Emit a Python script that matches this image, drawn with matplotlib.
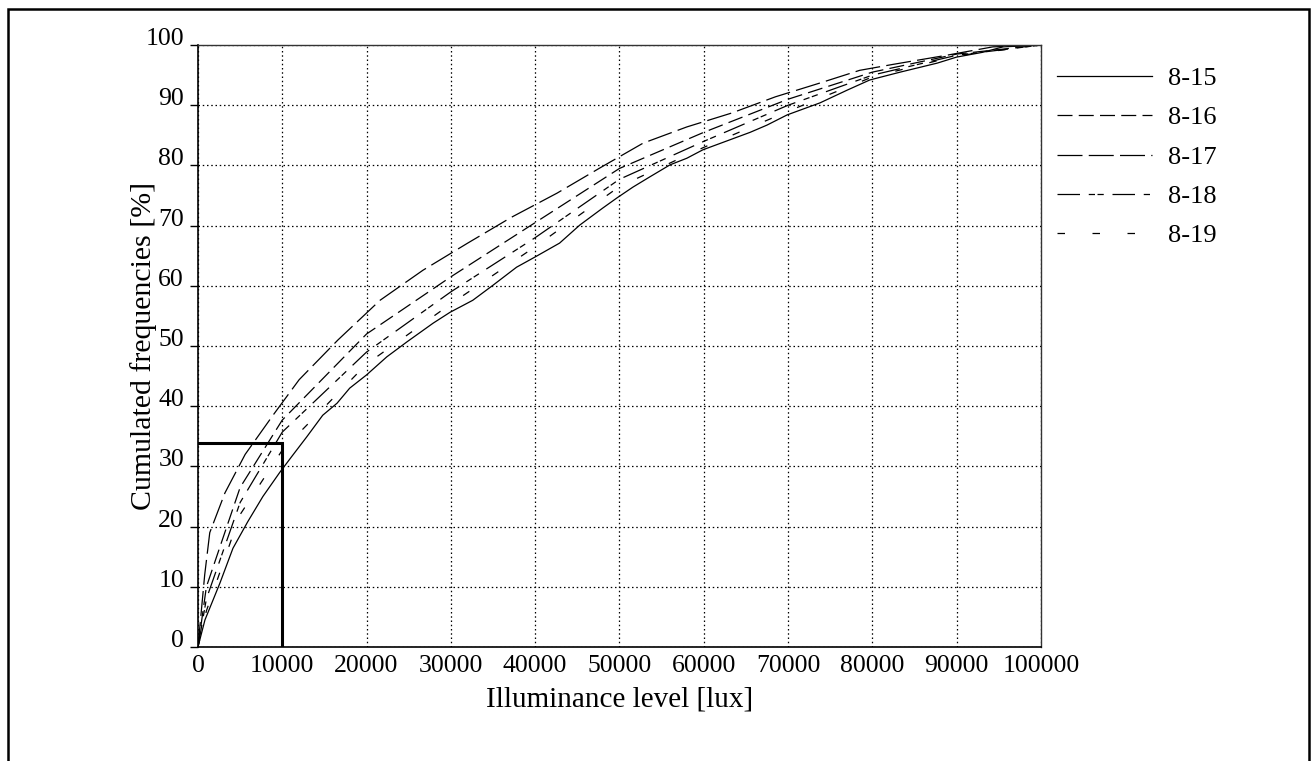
import matplotlib.pyplot as plt
from matplotlib.patches import Rectangle

plt.rcParams['font.family'] = ['Liberation Serif', 'DejaVu Serif']

'''Data read from the chart (illuminance in lux, cumulated frequency in %)'''
x_815 = [0, 830, 2600, 4150, 5900, 7700, 9700, 11100, 12900, 14800, 16500, 18000,
         20000, 22400, 24800, 27900, 29900, 32600, 35000, 37800, 40000, 42900,
         45300, 48000, 49700, 51600, 53600, 56000, 58000, 59900, 65500, 67500,
         69900, 73800, 77000, 79700, 83300, 87700, 90000, 93100, 95500, 100000]
y_815 = [0, 4.5, 10.6, 16.4, 20.8, 25, 29, 31.6, 34.9, 38.5, 40.5, 43,
         45.2, 48.2, 50.7, 53.8, 55.6, 57.6, 60.1, 63.1, 64.8, 67.1,
         70.1, 72.9, 74.6, 76.4, 78.1, 80.1, 81.2, 82.6, 85.5, 86.7,
         88.4, 90.4, 92.5, 94.2, 95.5, 97, 98, 98.8, 99.7, 100]

x_817 = [0, 800, 1400, 3200, 5600, 8900, 12000, 16600, 21600, 26700, 32000, 37200,
         42600, 47700, 52800, 58000, 63300, 68500, 73800, 78500, 82500, 88800,
         94300, 100000]
y_817 = [0, 12, 19, 25.6, 32, 38.5, 44.4, 51, 57.6, 62.6, 67.1, 71.4,
         75.4, 79.6, 83.7, 86.4, 88.7, 91.4, 93.7, 95.8, 96.8, 98.3,
         99.7, 100]

x_mid = [0, 1000, 5000, 10000, 20000, 30000, 40000, 50000, 60000, 70000, 80000,
         90000, 100000]
y_816 = [0, 10, 26.5, 37.7, 52, 61.5, 70.5, 79.5, 85.5, 91, 95.5, 98.5, 100]
y_818 = [0, 8, 24, 35.7, 49, 59, 68, 77.7, 84, 90, 95, 98.3, 100]
y_819 = [0, 6, 22, 32.7, 47, 57, 66.5, 76.5, 83, 89, 94.7, 98.2, 100]

target_lux = 10000
target_freq = 33.9

fig = plt.figure(figsize=(13.11, 7.61), dpi=100)
ax = fig.add_axes([0.151, 0.1498, 0.643, 0.791])

# outer frame of the figure
fig.patches.append(Rectangle((8 / 1311, -0.02), 1301 / 1311, 1.02 - 9 / 761,
                             transform=fig.transFigure, fill=False,
                             edgecolor='black', linewidth=1.8))

ax.plot(x_815, y_815, color='black', lw=0.9, label='8-15')
ax.plot(x_mid, y_816, color='black', lw=0.9, linestyle=(0, (12, 5)), label='8-16')
ax.plot(x_817, y_817, color='black', lw=0.9, linestyle=(0, (20, 5)), label='8-17')
ax.plot(x_mid, y_818, color='black', lw=0.9,
        linestyle=(0, (18, 7, 5, 2, 5, 7)), label='8-18')
ax.plot(x_mid, y_819, color='black', lw=0.9, linestyle=(0, (6, 22)), label='8-19')

### thick reading lines at 10000 lux
ax.plot([0, target_lux, target_lux], [target_freq, target_freq, 0],
        color='black', lw=2.2, solid_joinstyle='miter')

ax.set_xlim(0, 100000)
ax.set_ylim(0, 100)
ax.set_xticks(range(0, 100001, 10000))
ax.set_xticklabels([str(v) for v in range(0, 100001, 10000)])
ax.set_yticks(range(0, 101, 10))
ax.grid(True, color='black', linestyle=(0, (1.2, 2.2)), linewidth=0.9)

ax.tick_params(axis='x', length=0, pad=6, labelsize=18.5)
ax.tick_params(axis='y', length=6, width=1, pad=4, labelsize=18.5, direction='out')
for lab in ax.get_yticklabels():
    lab.set_verticalalignment('baseline')

for side in ['left', 'bottom']:
    ax.spines[side].set_linewidth(1.2)
for side in ['top', 'right']:
    ax.spines[side].set_linewidth(1.0)
    ax.spines[side].set_color('#333333')

ax.set_xlabel('Illuminance level [lux]', fontsize=21)
ax.set_ylabel('Cumulated frequencies [%]', fontsize=21.5)
ax.xaxis.set_label_coords(0.5, -0.066)
ax.yaxis.set_label_coords(-0.049, 0.5)

ax.legend(loc='upper left', bbox_to_anchor=(1.019, 0.964), frameon=False,
          fontsize=19, handlelength=3.6, handletextpad=0.6, labelspacing=0.6,
          borderpad=0, borderaxespad=0)

fig.savefig('out.png', dpi=100)
